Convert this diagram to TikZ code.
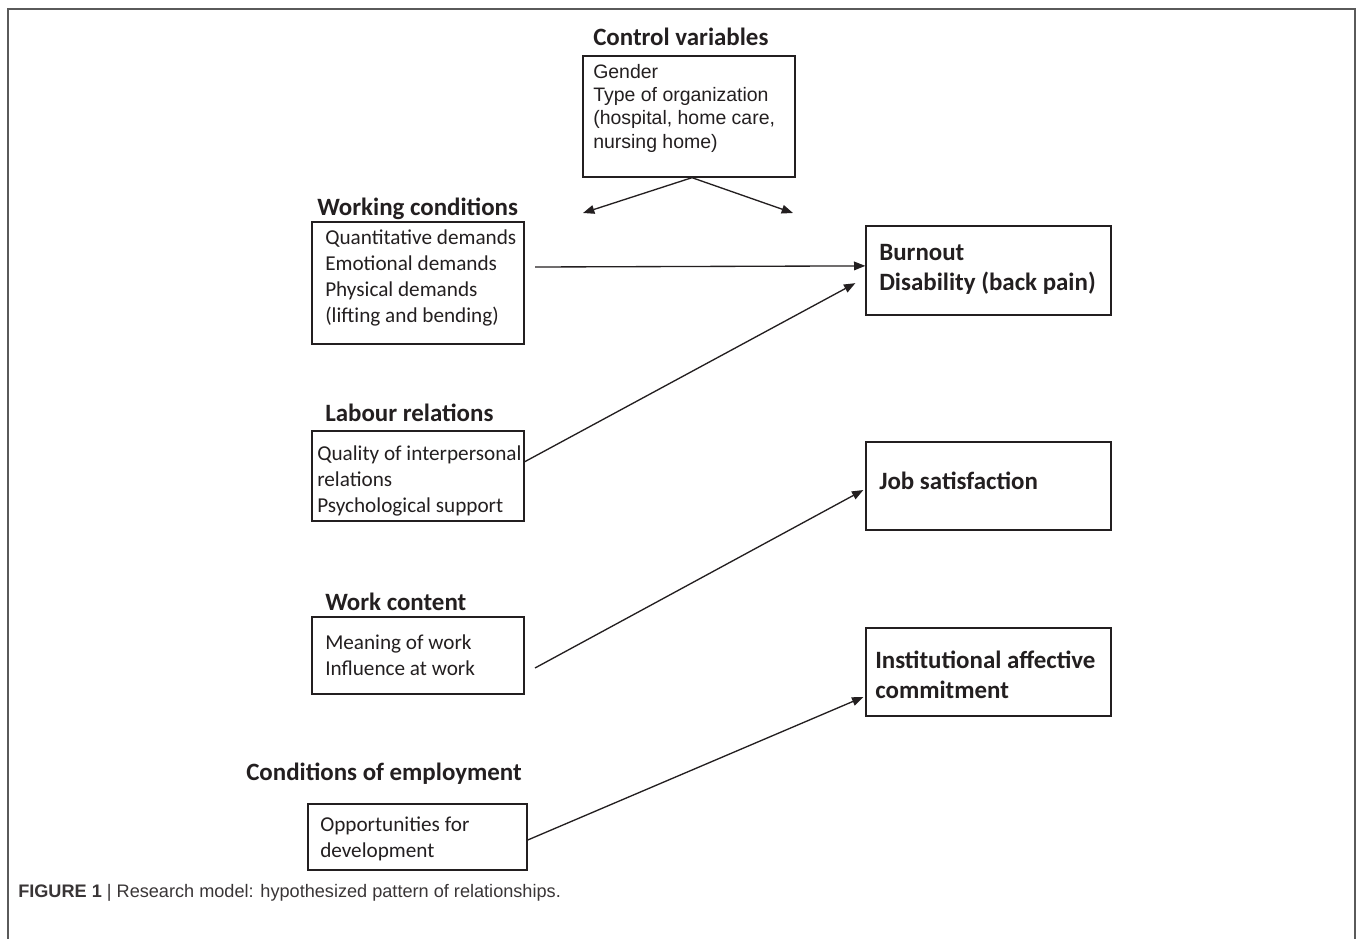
\documentclass[tikz,border=0pt]{standalone}
\usepackage{fontspec}
\usepackage{graphicx}
\setmainfont{Carlito}
\newfontfamily\arialf{Liberation Sans}
\usetikzlibrary{arrows.meta,calc,fit}
\definecolor{ink}{HTML}{231F20}
\definecolor{frame}{HTML}{5A5A5A}
\begin{document}
\begin{tikzpicture}[x=0.75pt,y=-0.75pt,
  box/.style={draw=ink, line width=1pt, inner sep=0pt, fit={#1}},
  ttl/.style={font=\fontsize{18.7}{22.5}\selectfont\bfseries, text=ink, inner sep=0pt, anchor=base west},
  btext/.style={font=\fontsize{18.7}{22.5}\selectfont\bfseries, text=ink, inner sep=0pt, anchor=base west, align=left},
  body/.style={font=\fontsize{15.9}{19.3}\selectfont, text=ink, inner sep=0pt, anchor=base west, align=left},
  abody/.style={font=\arialf\fontsize{14.6}{17.5}\selectfont, text=ink, inner sep=0pt, anchor=base west, align=left},
  arr/.style={draw=ink, line width=1pt, -{Triangle[length=8.5pt,width=6.5pt]}}]
\useasboundingbox (0,0) rectangle (1357,939);
\draw[frame, line width=1.6pt] (8,939) -- (8,9) -- (1355,9) -- (1355,939);

% control variables (multi-line nodes are placed by the baseline of their last line)
\node[ttl] (cvt) at (593,45) {Control variables};
\node[box={(583,56) (795,177)}] (cv) {};
\node[abody] (cvx) at (593,148) {Gender\\Type of organization\\(hospital, home care,\\nursing home)};
\coordinate (cvl) at (583,213);
\coordinate (cvr) at (793,213);
\draw[arr] ($(cv.south west)!0.514!(cv.south east)$) -- (cvl);
\draw[arr] ($(cv.south west)!0.514!(cv.south east)$) -- (cvr);

% working conditions
\node[ttl] (wct) at (317,215) {Working conditions};
\node[box={(312,222) (524,344)}] (wc) {};
\node[body] (wcx) at (325,322) {Quantitative demands\\Emotional demands\\Physical demands\\(lifting and bending)};

% labour relations
\node[ttl] (lrt) at (325,421) {Labour relations};
\node[box={(312,431) (524,521)}] (lr) {};
\node[body] (lrx) at (317,512) {Quality of interpersonal\\relations\\Psychological support};

% work content
\node[ttl] (wkt) at (325,610) {Work content};
\node[box={(312,617) (524,694)}] (wk) {};
\node[body] (wkx) at (325,675) {Meaning of work\\Influence at work};

% conditions of employment
\node[ttl] (cet) at (246,780) {Conditions of employment};
\node[box={(308,804) (527,870)}] (ce) {};
\node[body] (cex) at (320,857) {Opportunities for\\development};

% outcomes
\node[box={(866,226) (1111,315)}] (bo) {};
\node[btext] (box) at (879,290) {Burnout\\Disability (back pain)};
\node[box={(866,442) (1111,530)}] (js) {};
\node[btext] (jsx) at (879,489) {Job satisfaction};
\node[box={(866,628) (1111,716)}] (ia) {};
\node[btext] (iax) at (875,698) {Institutional affective\\commitment};

% connectors
\coordinate (a1) at (535,267);
\draw[arr] (a1) -- ($(bo.north west)!0.449!(bo.south west)$);
\draw[arr] ($(lr.north east)!0.344!(lr.south east)$) -- ($(bo.north west)!0.64!(bo.south west)+(-10,0)$);
\coordinate (a3) at (535,668);
\draw[arr] (a3) -- ($(js.north west)!0.545!(js.south west)+(-2,0)$);
\draw[arr] ($(ce.north east)!0.545!(ce.south east)$) -- ($(ia.north west)!0.78!(ia.south west)+(-2,0)$);

% caption
\node[font=\arialf\fontsize{13.6}{16}\selectfont, text=ink!90, inner sep=0pt, anchor=base west] (cap) at (18,897)
  {\textbf{FIGURE 1} | Research model: hypothesized pattern of relationships.};
\end{tikzpicture}
\end{document}
